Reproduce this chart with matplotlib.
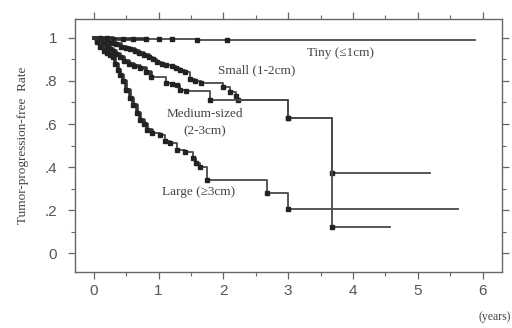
import numpy as np
import matplotlib
matplotlib.use("Agg")
import matplotlib.pyplot as plt
from matplotlib.ticker import MultipleLocator, FixedLocator

# Kaplan-Meier style curves (years, rate)
tiny_t = [0, 0.1, 0.2, 0.3, 0.45, 0.6, 0.8, 1.0, 1.2, 1.6, 2.05]
tiny_s = [1, 1, 0.998, 0.997, 0.996, 0.995, 0.995, 0.994, 0.993, 0.99, 0.99]
tiny_end = 5.88

small_t = [0, 0.05, 0.1, 0.15, 0.2, 0.27, 0.35, 0.42, 0.5, 0.56, 0.63, 0.7, 0.78,
           0.85, 0.92, 0.97, 1.05, 1.12, 1.2, 1.27, 1.33, 1.4, 1.48, 1.56, 1.66,
           1.99, 2.1, 2.2, 2.23, 3.0, 3.67]
small_s = [1, 0.995, 0.99, 0.985, 0.98, 0.975, 0.97, 0.96, 0.955, 0.95, 0.94, 0.93, 0.92,
           0.91, 0.9, 0.89, 0.88, 0.875, 0.87, 0.86, 0.85, 0.84, 0.81, 0.80, 0.79,
           0.77, 0.75, 0.73, 0.71, 0.63, 0.37]
small_end = 5.19

medium_t = [0, 0.05, 0.1, 0.15, 0.2, 0.25, 0.3, 0.35, 0.4, 0.47, 0.55, 0.62, 0.71,
            0.8, 0.89, 1.12, 1.2, 1.28, 1.33, 1.43, 1.79, 3.0, 3.67]
medium_s = [1, 0.99, 0.98, 0.97, 0.96, 0.95, 0.94, 0.925, 0.91, 0.895, 0.88, 0.87, 0.86,
            0.84, 0.82, 0.79, 0.785, 0.78, 0.76, 0.755, 0.71, 0.63, 0.12]
medium_end = 4.57

large_t = [0, 0.05, 0.1, 0.15, 0.2, 0.25, 0.29, 0.33, 0.37, 0.41, 0.45, 0.5, 0.56, 0.61,
           0.66, 0.72, 0.77, 0.82, 0.9, 1.02, 1.1, 1.17, 1.28, 1.4, 1.53, 1.58, 1.64,
           1.74, 2.67, 3.0]
large_s = [1, 0.98, 0.96, 0.94, 0.93, 0.92, 0.91, 0.88, 0.85, 0.83, 0.80, 0.76, 0.72, 0.69,
           0.65, 0.62, 0.60, 0.57, 0.56, 0.55, 0.52, 0.51, 0.48, 0.47, 0.44, 0.42, 0.40,
           0.34, 0.28, 0.205]
large_end = 5.62

curves = [(tiny_t, tiny_s, tiny_end), (small_t, small_s, small_end),
          (medium_t, medium_s, medium_end), (large_t, large_s, large_end)]

grey = "#666666"
fig = plt.figure(figsize=(5.12, 3.28), dpi=100)
ax = fig.add_axes([0.1465, 0.1707, 0.834, 0.7713])

for t, s, end in curves:
    ax.step(t + [end], s + [s[-1]], where="post", color="#4a4a4a", lw=1.3)
    # early part is crowded with censoring marks, so it looks much heavier
    n = sum(1 for v in t if v <= 0.9)
    ax.step(t[:n], s[:n], where="post", color="#333333", lw=2.6)
    ax.plot(t[1:], s[1:], "s", ms=3.0, color="#222222", lw=0)

ax.set_xlim(-0.29, 6.3)
ax.set_ylim(-0.088, 1.088)

ax.xaxis.set_major_locator(FixedLocator([0, 1, 2, 3, 4, 5, 6]))
ax.xaxis.set_minor_locator(MultipleLocator(0.5))
ax.yaxis.set_major_locator(FixedLocator([0, 0.2, 0.4, 0.6, 0.8, 1.0]))
ax.yaxis.set_minor_locator(MultipleLocator(0.1))
ax.set_yticklabels(["0", ".2", ".4", ".6", ".8", "1"])
ax.tick_params(which="both", direction="out", colors=grey, labelcolor="#555555",
               top=True, right=True, labelsize=11)
ax.tick_params(which="major", length=5, width=0.9)
ax.tick_params(which="minor", length=3, width=0.8)
ax.tick_params(axis="y", pad=8)
for lab in ax.get_xticklabels() + ax.get_yticklabels():
    lab.set_family("Liberation Sans")
for sp in ax.spines.values():
    sp.set_color(grey)
    sp.set_linewidth(1.0)

serif = "Liberation Serif"
ax.set_ylabel("Tumor-progression-free  Rate", family=serif, fontsize=9.5,
              color="#444444", labelpad=11)
ax.text(3.8, 0.93, "Tiny (\u22641cm)", family=serif, fontsize=9.5, color="#444444",
        ha="center", va="center")
ax.text(1.91, 0.85, "Small (1-2cm)", family=serif, fontsize=9.5, color="#444444",
        ha="left", va="center")
ax.text(1.72, 0.645, "Medium-sized", family=serif, fontsize=9.5, color="#444444",
        ha="center", va="center")
ax.text(1.72, 0.565, "(2-3cm)", family=serif, fontsize=9.5, color="#444444",
        ha="center", va="center")
ax.text(1.05, 0.285, "Large (\u22653cm)", family=serif, fontsize=9.5, color="#444444",
        ha="left", va="center")
fig.text(0.998, 0.015, "(years)", family=serif, fontsize=8.5, color="#444444",
         ha="right", va="bottom")

fig.savefig("out.png", dpi=100)
